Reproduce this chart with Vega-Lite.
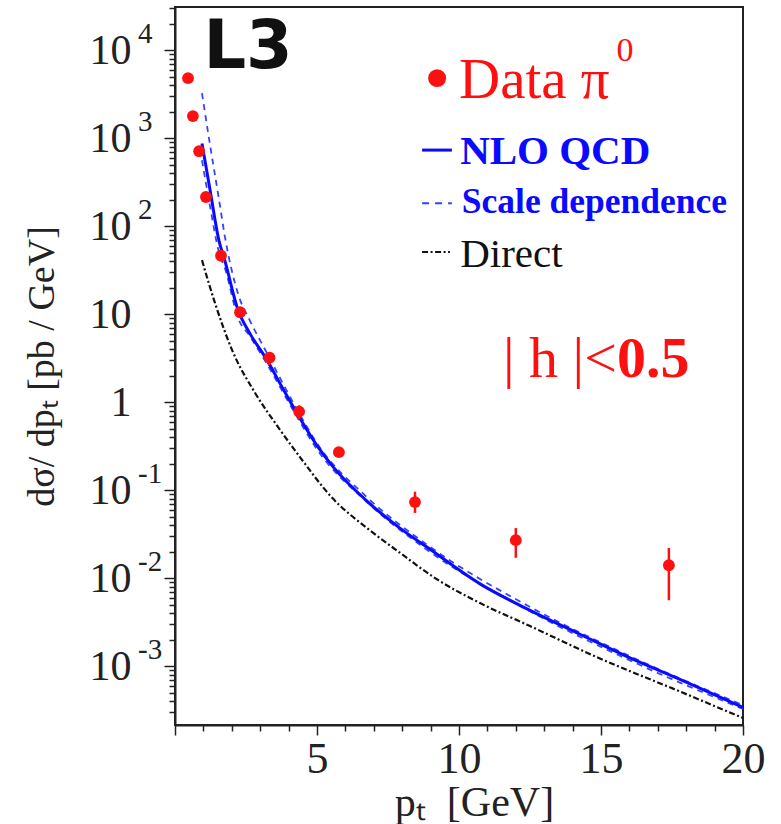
{
  "$schema": "https://vega.github.io/schema/vega-lite/v6.json",
  "width": 568,
  "height": 718,
  "autosize": {"type": "none"},
  "padding": {"left": 175, "top": 7, "right": 38, "bottom": 99},
  "background": "white",
  "config": {
    "view": {"stroke": "#222", "strokeWidth": 2},
    "font": "Liberation Serif",
    "axis": {"labelOverlap": false}
  },
  "datasets": {
    "pi0": [
      {"pt": 0.46, "xs": 4800},
      {"pt": 0.63, "xs": 1780},
      {"pt": 0.85, "xs": 710},
      {"pt": 1.09, "xs": 214},
      {"pt": 1.62, "xs": 46},
      {"pt": 2.29, "xs": 10.5},
      {"pt": 3.33, "xs": 3.2, "lo": 2.65, "hi": 3.7},
      {"pt": 4.37, "xs": 0.78, "lo": 0.64, "hi": 0.92},
      {"pt": 5.77, "xs": 0.27},
      {"pt": 8.45, "xs": 0.073, "lo": 0.055, "hi": 0.096},
      {"pt": 12.0, "xs": 0.027, "lo": 0.017, "hi": 0.037},
      {"pt": 17.39, "xs": 0.014, "lo": 0.0056, "hi": 0.022}
    ],
    "theory": [
      {"series": "direct", "pt": 0.95, "xs": 41},
      {"series": "direct", "pt": 1.41, "xs": 13.3},
      {"series": "direct", "pt": 2.01, "xs": 3.9},
      {"series": "direct", "pt": 2.82, "xs": 1.27},
      {"series": "direct", "pt": 3.63, "xs": 0.52},
      {"series": "direct", "pt": 4.4, "xs": 0.237},
      {"series": "direct", "pt": 5.56, "xs": 0.08},
      {"series": "direct", "pt": 6.76, "xs": 0.037},
      {"series": "direct", "pt": 7.82, "xs": 0.0205},
      {"series": "direct", "pt": 9.2, "xs": 0.0098},
      {"series": "direct", "pt": 10.74, "xs": 0.0052},
      {"series": "direct", "pt": 12.5, "xs": 0.00285},
      {"series": "direct", "pt": 14.86, "xs": 0.00126},
      {"series": "direct", "pt": 17.68, "xs": 0.00053},
      {"series": "direct", "pt": 20, "xs": 0.000257},

      {"series": "up", "pt": 0.95, "xs": 3240},
      {"series": "up", "pt": 1.23, "xs": 850},
      {"series": "up", "pt": 1.55, "xs": 200},
      {"series": "up", "pt": 1.76, "xs": 75},
      {"series": "up", "pt": 2.22, "xs": 17},
      {"series": "up", "pt": 2.64, "xs": 8.4},
      {"series": "up", "pt": 3.24, "xs": 3.6},
      {"series": "up", "pt": 4.23, "xs": 0.9},
      {"series": "up", "pt": 5.0, "xs": 0.34},
      {"series": "up", "pt": 6.76, "xs": 0.083},
      {"series": "up", "pt": 8.87, "xs": 0.024},
      {"series": "up", "pt": 12.5, "xs": 0.0047},
      {"series": "up", "pt": 15.92, "xs": 0.00134},
      {"series": "up", "pt": 20, "xs": 0.00036},

      {"series": "down", "pt": 0.95, "xs": 560},
      {"series": "down", "pt": 1.23, "xs": 170},
      {"series": "down", "pt": 1.55, "xs": 50},
      {"series": "down", "pt": 1.76, "xs": 33},
      {"series": "down", "pt": 2.22, "xs": 9},
      {"series": "down", "pt": 2.64, "xs": 5.6},
      {"series": "down", "pt": 3.24, "xs": 2.7},
      {"series": "down", "pt": 4.23, "xs": 0.74},
      {"series": "down", "pt": 5.0, "xs": 0.29},
      {"series": "down", "pt": 6.76, "xs": 0.073},
      {"series": "down", "pt": 8.87, "xs": 0.021},
      {"series": "down", "pt": 12.5, "xs": 0.0042},
      {"series": "down", "pt": 15.92, "xs": 0.0012},
      {"series": "down", "pt": 20, "xs": 0.000325},

      {"series": "nlo", "pt": 0.95, "xs": 870},
      {"series": "nlo", "pt": 1.23, "xs": 263},
      {"series": "nlo", "pt": 1.55, "xs": 68},
      {"series": "nlo", "pt": 1.76, "xs": 40},
      {"series": "nlo", "pt": 2.22, "xs": 11.1},
      {"series": "nlo", "pt": 2.64, "xs": 6.0},
      {"series": "nlo", "pt": 3.24, "xs": 3.0},
      {"series": "nlo", "pt": 3.77, "xs": 1.48},
      {"series": "nlo", "pt": 4.23, "xs": 0.81},
      {"series": "nlo", "pt": 5.0, "xs": 0.32},
      {"series": "nlo", "pt": 5.56, "xs": 0.185},
      {"series": "nlo", "pt": 6.76, "xs": 0.075},
      {"series": "nlo", "pt": 7.92, "xs": 0.037},
      {"series": "nlo", "pt": 8.87, "xs": 0.0225},
      {"series": "nlo", "pt": 10.74, "xs": 0.0086},
      {"series": "nlo", "pt": 12.5, "xs": 0.0043},
      {"series": "nlo", "pt": 14.26, "xs": 0.0023},
      {"series": "nlo", "pt": 15.92, "xs": 0.00128},
      {"series": "nlo", "pt": 17.68, "xs": 0.00073},
      {"series": "nlo", "pt": 20, "xs": 0.00034}
    ],
    "decades": [
      {"v": 10000, "e": "4"},
      {"v": 1000, "e": "3"},
      {"v": 100, "e": "2"},
      {"v": 0.1, "e": "-1"},
      {"v": 0.01, "e": "-2"},
      {"v": 0.001, "e": "-3"}
    ]
  },
  "layer": [
    {
      "data": {"name": "theory"},
      "transform": [{"filter": "datum.series === 'direct'"}],
      "mark": {"type": "line", "color": "#111", "strokeWidth": 2.2, "strokeDash": [6, 2.5, 2, 2.5], "interpolate": "monotone", "clip": true},
      "encoding": {
        "x": {
          "field": "pt", "type": "quantitative",
          "scale": {"domain": [0, 20], "nice": false, "zero": false},
          "axis": {
            "values": [0, 1, 2, 3, 4, 5, 6, 7, 8, 9, 10, 11, 12, 13, 14, 15, 16, 17, 18, 19, 20],
            "tickCount": 100,
            "labelExpr": "datum.value % 5 === 0 && datum.value > 0 ? format(datum.value, 'd') : ''",
            "tickSize": {"condition": {"test": "datum.value % 5 === 0", "value": 10}, "value": 6},
            "tickColor": "#222", "tickWidth": 1.5,
            "domainColor": "#222", "domainWidth": 2,
            "grid": false,
            "labelFont": "Liberation Serif", "labelFontSize": 44, "labelColor": "#222",
            "labelPadding": 2, "labelFlush": false, "labelOverlap": false,
            "title": "p\u209c\u00a0\u00a0[GeV]",
            "titleFont": "Liberation Serif", "titleFontSize": 42, "titleFontWeight": "normal",
            "titleColor": "#222", "titlePadding": 1, "titleX": 299
          }
        },
        "y": {
          "field": "xs", "type": "quantitative",
          "scale": {"type": "log", "domain": [0.000214, 30900], "nice": false},
          "axis": {
            "values": [0.0003, 0.0004, 0.0005, 0.0006, 0.0007, 0.0008, 0.0009,
                       0.001, 0.002, 0.003, 0.004, 0.005, 0.006, 0.007, 0.008, 0.009,
                       0.01, 0.02, 0.03, 0.04, 0.05, 0.06, 0.07, 0.08, 0.09,
                       0.1, 0.2, 0.3, 0.4, 0.5, 0.6, 0.7, 0.8, 0.9,
                       1, 2, 3, 4, 5, 6, 7, 8, 9,
                       10, 20, 30, 40, 50, 60, 70, 80, 90,
                       100, 200, 300, 400, 500, 600, 700, 800, 900,
                       1000, 2000, 3000, 4000, 5000, 6000, 7000, 8000, 9000,
                       10000, 20000, 30000],
            "tickCount": 200,
            "labelExpr": "abs(log(datum.value)/LN10 - round(log(datum.value)/LN10)) > 0.001 ? '' : round(log(datum.value)/LN10) == 0 ? '1' : '10'",
            "tickSize": {"condition": {"test": "abs(log(datum.value)/LN10 - round(log(datum.value)/LN10)) < 0.001", "value": 11}, "value": 6},
            "tickColor": "#222", "tickWidth": 1.5,
            "domainColor": "#222", "domainWidth": 2,
            "grid": false,
            "labelFont": "Liberation Serif", "labelFontSize": 42, "labelColor": "#222",
            "labelPadding": 33, "labelOverlap": false, "labelFlush": false,
            "title": "d\u03c3/ dp\u209c [pb / GeV]",
            "titleFont": "Liberation Serif", "titleFontSize": 38, "titleFontWeight": "normal",
            "titleColor": "#222", "titlePadding": 28
          }
        }
      }
    },
    {
      "data": {"name": "theory"},
      "transform": [{"filter": "datum.series === 'up' || datum.series === 'down'"}],
      "mark": {"type": "line", "color": "#3344ff", "strokeWidth": 1.8, "strokeDash": [6, 5], "interpolate": "monotone", "clip": true},
      "encoding": {
        "x": {"field": "pt", "type": "quantitative"},
        "y": {"field": "xs", "type": "quantitative"},
        "detail": {"field": "series"}
      }
    },
    {
      "data": {"name": "theory"},
      "transform": [{"filter": "datum.series === 'nlo'"}],
      "mark": {"type": "line", "color": "#0a0aff", "strokeWidth": 3, "interpolate": "monotone", "clip": true},
      "encoding": {
        "x": {"field": "pt", "type": "quantitative"},
        "y": {"field": "xs", "type": "quantitative"}
      }
    },
    {
      "data": {"name": "pi0"},
      "transform": [{"filter": "isValid(datum.lo)"}],
      "mark": {"type": "rule", "color": "#ff1010", "strokeWidth": 2.5},
      "encoding": {
        "x": {"field": "pt", "type": "quantitative"},
        "y": {"field": "lo", "type": "quantitative"},
        "y2": {"field": "hi"}
      }
    },
    {
      "data": {"name": "pi0"},
      "mark": {"type": "point", "shape": "circle", "filled": true, "color": "#ff1010", "size": 140, "opacity": 1},
      "encoding": {
        "x": {"field": "pt", "type": "quantitative"},
        "y": {"field": "xs", "type": "quantitative"}
      }
    },
    {
      "data": {"name": "decades"},
      "mark": {"type": "text", "font": "Liberation Serif", "fontSize": 29, "align": "left", "baseline": "middle", "dy": -16, "color": "#222", "clip": false},
      "encoding": {
        "x": {"datum": -1.3},
        "y": {"field": "v", "type": "quantitative"},
        "text": {"field": "e"}
      }
    },
    {
      "data": {"values": [{}]},
      "mark": {"type": "text", "text": "L3", "font": "DejaVu Sans", "fontWeight": "bold", "fontSize": 67, "align": "left", "baseline": "middle", "color": "#111"},
      "encoding": {"x": {"datum": 1.0}, "y": {"datum": 10500}}
    },
    {
      "data": {"values": [{}]},
      "mark": {"type": "point", "shape": "circle", "filled": true, "color": "#ff1010", "size": 320, "opacity": 1},
      "encoding": {"x": {"datum": 9.23}, "y": {"datum": 4800}}
    },
    {
      "data": {"values": [{}]},
      "mark": {"type": "text", "text": "Data \u03c0", "font": "Liberation Serif", "fontSize": 57, "align": "left", "baseline": "middle", "color": "#ff1010"},
      "encoding": {"x": {"datum": 10.0}, "y": {"datum": 4400}}
    },
    {
      "data": {"values": [{}]},
      "mark": {"type": "text", "text": "0", "font": "Liberation Serif", "fontSize": 34, "align": "left", "baseline": "middle", "color": "#ff1010"},
      "encoding": {"x": {"datum": 15.55}, "y": {"datum": 9800}}
    },
    {
      "data": {"values": [{}]},
      "mark": {"type": "rule", "color": "#0a0aff", "strokeWidth": 3},
      "encoding": {"x": {"datum": 8.7}, "x2": {"datum": 9.75}, "y": {"datum": 731}}
    },
    {
      "data": {"values": [{}]},
      "mark": {"type": "text", "text": "NLO QCD", "font": "Liberation Serif", "fontWeight": "bold", "fontSize": 41, "align": "left", "baseline": "middle", "color": "#0a0aff"},
      "encoding": {"x": {"datum": 10.04}, "y": {"datum": 692}}
    },
    {
      "data": {"values": [{}]},
      "mark": {"type": "rule", "color": "#3344ff", "strokeWidth": 2, "strokeDash": [7, 6]},
      "encoding": {"x": {"datum": 8.7}, "x2": {"datum": 9.75}, "y": {"datum": 182}}
    },
    {
      "data": {"values": [{}]},
      "mark": {"type": "text", "text": "Scale dependence", "font": "Liberation Serif", "fontWeight": "bold", "fontSize": 35.5, "align": "left", "baseline": "middle", "color": "#0a0aff"},
      "encoding": {"x": {"datum": 10.1}, "y": {"datum": 187}}
    },
    {
      "data": {"values": [{}]},
      "mark": {"type": "rule", "color": "#111", "strokeWidth": 2, "strokeDash": [6, 2.5, 2, 2.5]},
      "encoding": {"x": {"datum": 8.7}, "x2": {"datum": 9.68}, "y": {"datum": 50.7}}
    },
    {
      "data": {"values": [{}]},
      "mark": {"type": "text", "text": "Direct", "font": "Liberation Serif", "fontSize": 41, "align": "left", "baseline": "middle", "color": "#111"},
      "encoding": {"x": {"datum": 10.04}, "y": {"datum": 46.9}}
    },
    {
      "data": {"values": [{}]},
      "mark": {"type": "text", "text": "| h |<", "font": "Liberation Serif", "fontSize": 58, "align": "right", "baseline": "middle", "color": "#ff1010"},
      "encoding": {"x": {"datum": 15.56}, "y": {"datum": 3.0}}
    },
    {
      "data": {"values": [{}]},
      "mark": {"type": "text", "text": "0.5", "font": "Liberation Serif", "fontWeight": "bold", "fontSize": 58, "align": "left", "baseline": "middle", "color": "#ff1010"},
      "encoding": {"x": {"datum": 15.56}, "y": {"datum": 3.0}}
    }
  ]
}
